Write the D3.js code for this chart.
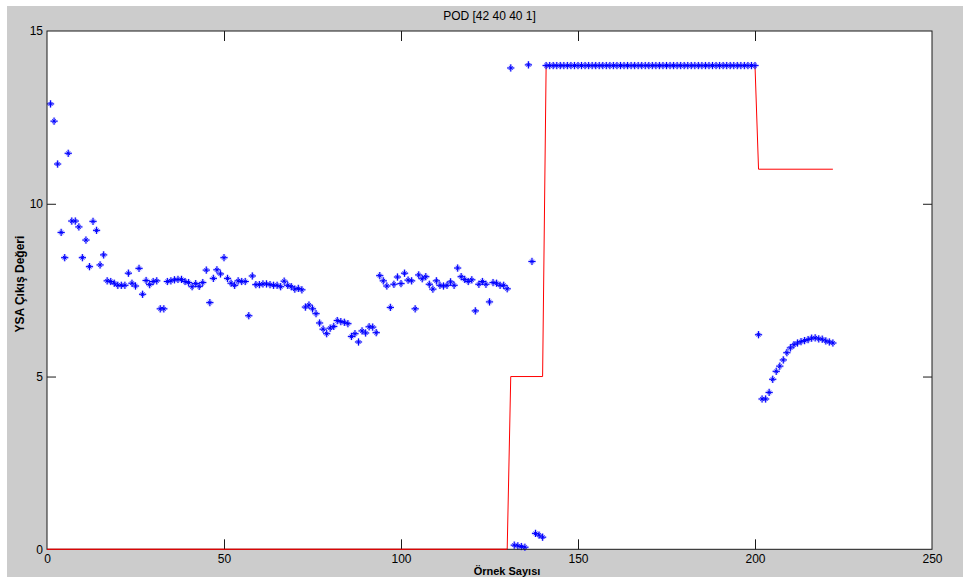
<!DOCTYPE html>
<html>
<head>
<meta charset="utf-8">
<script src="https://cdn.jsdelivr.net/npm/d3@7"></script>
<style>
  html, body { margin: 0; padding: 0; background: #ffffff; }
  svg { display: block; }
  text { font-family: "Liberation Sans", Arial, Helvetica, sans-serif; fill: #000; }
</style>
</head>
<body>
<svg id="chart" width="963" height="578"></svg>
<script>
// Network output (YSA çıkışı) for each sample, samples 1..222
const ysaOutput = [
  12.89, 12.39, 11.15, 9.17, 8.44, 11.46, 9.50, 9.50, 9.33, 8.44,
  8.95, 8.18, 9.49, 9.23, 8.23, 8.52, 7.77, 7.75, 7.70, 7.64,
  7.64, 7.64, 7.99, 7.70, 7.62, 8.13, 7.38, 7.78, 7.66, 7.75,
  7.77, 6.96, 6.96, 7.75, 7.77, 7.80, 7.81, 7.81, 7.75, 7.72,
  7.60, 7.69, 7.61, 7.72, 8.08, 7.14, 7.84, 8.09, 7.97, 8.44,
  7.84, 7.70, 7.64, 7.77, 7.75, 7.75, 6.76, 7.91, 7.66, 7.66,
  7.68, 7.68, 7.66, 7.64, 7.64, 7.60, 7.76, 7.64, 7.60, 7.53,
  7.55, 7.51, 7.01, 7.07, 6.96, 6.82, 6.55, 6.37, 6.24, 6.40,
  6.45, 6.62, 6.59, 6.57, 6.53, 6.16, 6.24, 6.00, 6.32, 6.26,
  6.44, 6.43, 6.27, 7.92, 7.77, 7.62, 7.00, 7.67, 7.88, 7.69,
  7.99, 7.79, 7.77, 6.96, 7.94, 7.83, 7.89, 7.67, 7.53, 7.77,
  7.64, 7.62, 7.64, 7.74, 7.64, 8.14, 7.89, 7.81, 7.75, 7.80,
  6.90, 7.67, 7.75, 7.67, 7.16, 7.72, 7.70, 7.64, 7.64, 7.54,
  13.93, 0.12, 0.10, 0.08, 0.06, 14.02, 8.33, 0.46, 0.41, 0.35,
  14, 14, 14, 14, 14, 14, 14, 14, 14, 14,
  14, 14, 14, 14, 14, 14, 14, 14, 14, 14,
  14, 14, 14, 14, 14, 14, 14, 14, 14, 14,
  14, 14, 14, 14, 14, 14, 14, 14, 14, 14,
  14, 14, 14, 14, 14, 14, 14, 14, 14, 14,
  14, 14, 14, 14, 14, 14, 14, 14, 14, 14,
  6.21, 4.35, 4.35, 4.54, 4.92, 5.15, 5.30, 5.48, 5.69, 5.83,
  5.92, 5.97, 6.01, 6.04, 6.07, 6.11, 6.12, 6.09, 6.08, 6.03,
  6.00, 5.97
];

// Target (desired) output: vertices of the red polyline
const targetSample = [0, 130, 131, 140, 141, 200, 201, 222];
const targetValue  = [0, 0, 5, 5, 14, 14, 11, 11];

const xTicks = [0, 50, 100, 150, 200, 250];
const yTicks = [0, 5, 10, 15];

const titleText = "POD [42 40 40 1]";
const xLabelText = "Örnek Sayısı";
const yLabelText = "YSA Çıkış Değeri";

const narrowFont = "'Liberation Sans Narrow', 'Arial Narrow', 'Liberation Sans', Arial, sans-serif";

const svg = d3.select("#chart");

// grey figure background
svg.append("rect")
  .attr("x", 7).attr("y", 6)
  .attr("width", 956).attr("height", 571)
  .attr("fill", "#cccccc");

const plotLeft = 47, plotRight = 932, plotTop = 31, plotBottom = 549.3;

const x = d3.scaleLinear().domain([0, 250]).range([plotLeft, plotRight]);
const y = d3.scaleLinear().domain([0, 15]).range([plotBottom, plotTop]);

// white axes area
svg.append("rect")
  .attr("x", plotLeft).attr("y", plotTop)
  .attr("width", plotRight - plotLeft).attr("height", plotBottom - plotTop)
  .attr("fill", "#ffffff");

// target line
const targetPts = targetSample.map((s, i) => [s, targetValue[i]]);
svg.append("path")
  .datum(targetPts)
  .attr("fill", "none")
  .attr("stroke", "#ff0000")
  .attr("stroke-width", 1)
  .attr("d", d3.line().x(d => x(d[0])).y(d => y(d[1])));

// asterisk markers for network output: soft halo plus a crisp star on top
const r = 3.6, rd = 1.8;
const star = `M${-r},0H${r}M0,${-r}V${r}M${-rd},${-rd}L${rd},${rd}M${-rd},${rd}L${rd},${-rd}`;
const pts = ysaOutput.map((v, i) => [i + 1, v]);
const markers = svg.append("g");
markers.selectAll("path.halo")
  .data(pts)
  .join("path")
  .attr("class", "halo")
  .attr("transform", d => `translate(${x(d[0])},${y(d[1])})`)
  .attr("d", star)
  .attr("fill", "none")
  .attr("stroke", "#7f7fff")
  .attr("stroke-opacity", 0.45)
  .attr("stroke-width", 2.6);
markers.selectAll("path.mk")
  .data(pts)
  .join("path")
  .attr("class", "mk")
  .attr("transform", d => `translate(${x(d[0])},${y(d[1])})`)
  .attr("d", star)
  .attr("fill", "none")
  .attr("stroke", "#0000ff")
  .attr("stroke-width", 1);

// axes with inward ticks on all four sides
const axisColor = "#1a1a1a";
function styleAxis(g) {
  g.select(".domain").remove();
  g.selectAll(".tick line").attr("stroke", axisColor);
  g.selectAll(".tick text")
    .attr("font-size", 12)
    .attr("font-family", narrowFont)
    .attr("fill", "#1a1a1a");
}

svg.append("g")
  .attr("transform", `translate(0,${plotBottom})`)
  .call(d3.axisBottom(x).tickValues(xTicks).tickSizeInner(-10).tickSizeOuter(0).tickPadding(5).tickFormat(d3.format("d")))
  .call(styleAxis)
  .call(g => g.selectAll(".tick").filter(d => d === 0 || d === 250).select("line").remove());

svg.append("g")
  .attr("transform", `translate(0,${plotTop})`)
  .call(d3.axisTop(x).tickValues(xTicks).tickSizeInner(-10).tickSizeOuter(0).tickFormat(""))
  .call(styleAxis)
  .call(g => g.selectAll(".tick").filter(d => d === 0 || d === 250).select("line").remove());

svg.append("g")
  .attr("transform", `translate(${plotLeft},0)`)
  .call(d3.axisLeft(y).tickValues(yTicks).tickSizeInner(-9).tickSizeOuter(0).tickPadding(4).tickFormat(d3.format("d")))
  .call(styleAxis)
  .call(g => g.selectAll(".tick").filter(d => d === 0 || d === 15).select("line").remove());

svg.append("g")
  .attr("transform", `translate(${plotRight},0)`)
  .call(d3.axisRight(y).tickValues(yTicks).tickSizeInner(-9).tickSizeOuter(0).tickFormat(""))
  .call(styleAxis)
  .call(g => g.selectAll(".tick").filter(d => d === 0 || d === 15).select("line").remove());

// box
svg.append("rect")
  .attr("x", plotLeft).attr("y", plotTop)
  .attr("width", plotRight - plotLeft).attr("height", plotBottom - plotTop)
  .attr("fill", "none")
  .attr("stroke", axisColor)
  .attr("stroke-width", 1);

// re-draw the target baseline over the bottom axis line
svg.append("path")
  .datum(targetPts.filter(d => d[1] === 0))
  .attr("fill", "none")
  .attr("stroke", "#ff0000")
  .attr("stroke-width", 1)
  .attr("d", d3.line().x(d => x(d[0])).y(d => y(d[1])));

// title and axis labels
svg.append("text")
  .attr("x", (plotLeft + plotRight) / 2).attr("y", 20)
  .attr("text-anchor", "middle")
  .attr("font-size", 12)
  .attr("font-family", narrowFont)
  .attr("fill", "#1a1a1a")
  .text(titleText);

svg.append("text")
  .attr("x", 507).attr("y", 575)
  .attr("text-anchor", "middle")
  .attr("font-size", 11)
  .attr("font-weight", "bold")
  .attr("fill", "#1a1a1a")
  .text(xLabelText);

svg.append("text")
  .attr("transform", `translate(24,${(plotTop + plotBottom) / 2 - 6}) rotate(-90)`)
  .attr("text-anchor", "middle")
  .attr("font-size", 12)
  .attr("font-weight", "bold")
  .attr("fill", "#1a1a1a")
  .text(yLabelText);
</script>
</body>
</html>
